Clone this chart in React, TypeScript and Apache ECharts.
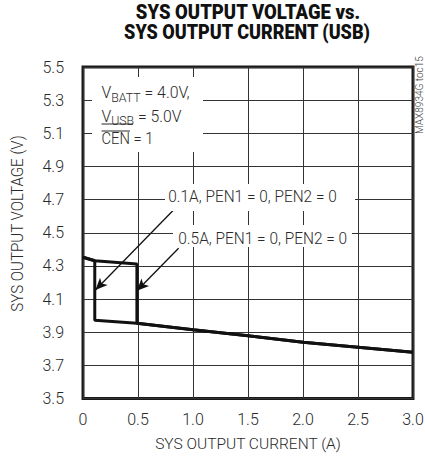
import React, { useEffect, useRef } from "react";
import * as echarts from "echarts";

const FONT = "Roboto, 'Liberation Sans', sans-serif";
const LIGHT = "300";

// Axis ticks
const xTicks = [0, 0.5, 1.0, 1.5, 2.0, 2.5, 3.0];
const yTicks = [3.5, 3.7, 3.9, 4.1, 4.3, 4.5, 4.7, 4.9, 5.1, 5.3, 5.5];

// 0.1A, PEN1 = 0, PEN2 = 0
const current01 = [0, 0.107, 0.107, 0.49, 1.0, 1.5, 2.0, 2.5, 3.0];
const voltage01 = [4.352, 4.331, 3.972, 3.954, 3.915, 3.878, 3.839, 3.809, 3.779];

// 0.5A, PEN1 = 0, PEN2 = 0
const current05 = [0, 0.107, 0.49, 0.49, 1.0, 1.5, 2.0, 2.5, 3.0];
const voltage05 = [4.352, 4.331, 4.311, 3.954, 3.915, 3.878, 3.839, 3.809, 3.779];

// arrow annotations: [fromX, fromY, toX, toY]
const arrow01 = [0.823, 4.637, 0.113, 4.155];
const arrow05 = [0.869, 4.406, 0.49, 4.15];

const TITLE1 = "SYS OUTPUT VOLTAGE vs.";
const TITLE2 = "SYS OUTPUT CURRENT (USB)";
const LABEL01 = "0.1A, PEN1 = 0, PEN2 = 0";
const LABEL05 = "0.5A, PEN1 = 0, PEN2 = 0";

let ctx: CanvasRenderingContext2D | null = null;
function measure(text: string, size: number, weight = LIGHT) {
  if (!ctx) ctx = document.createElement("canvas").getContext("2d");
  if (!ctx) return text.length * size * 0.55;
  ctx.font = `${weight} ${size}px ${FONT}`;
  return ctx.measureText(text).width;
}

export default function App() {
  const ref = useRef<HTMLDivElement>(null);
  useEffect(() => {
    if (!ref.current) return;
    const chart = echarts.init(ref.current, null, { renderer: "svg" });
    const pair = (xs: number[], ys: number[]) => xs.map((x, i) => [x, ys[i]]);
    const lineStyle = { color: "#111", width: 3 };
    const TXT = "#2a2a2a";

    const fit = (text: string, size: number, target: number, weight = LIGHT) =>
      target / measure(text, size, weight);

    const subLine = (main: string, sub: string, rest: string, target: number) => {
      const w = measure(main, 16) + measure(sub, 12.5) + measure(rest, 16);
      return target / w;
    };

    const plainText = (
      text: string,
      x: number,
      y: number,
      size: number,
      target: number,
      extra: any = {}
    ) => ({
      type: "text",
      x,
      y,
      z: 11,
      scaleX: fit(text, size, target, extra.fontWeight || LIGHT),
      rotation: extra.rotation || 0,
      style: {
        text,
        fontFamily: FONT,
        fontSize: size,
        fontWeight: extra.fontWeight || LIGHT,
        fill: extra.fill || TXT,
        align: extra.align || "left",
        verticalAlign: "middle",
      },
    });

    const richSub = { fontFamily: FONT, fontSize: 12.5, fontWeight: LIGHT, fill: TXT, verticalAlign: "bottom", padding: [0, 0, -3, 0] };
    const richMain = { fontFamily: FONT, fontSize: 16, fontWeight: LIGHT, fill: TXT };

    chart.setOption({
      animation: false,
      backgroundColor: "#fff",
      grid: {
        left: 83,
        top: 67,
        right: 12,
        bottom: 62.5,
        show: true,
        borderColor: "#1a1a1a",
        borderWidth: 3,
        outerBoundsMode: "none",
        containLabel: false,
      },
      xAxis: {
        type: "value",
        min: xTicks[0],
        max: xTicks[xTicks.length - 1],
        interval: 0.5,
        name: "SYS OUTPUT CURRENT (A)",
        nameLocation: "middle",
        nameGap: 37,
        nameTextStyle: { fontFamily: FONT, fontSize: 15.5, fontWeight: LIGHT, color: TXT },
        axisLine: { show: false },
        axisTick: { show: false },
        axisLabel: {
          margin: 13,
          fontFamily: FONT,
          fontSize: 16,
          fontWeight: LIGHT,
          color: TXT,
          formatter: (v: number) => (v === 0 ? "0" : v.toFixed(1)),
        },
        splitLine: { show: true, lineStyle: { color: "#333", width: 1 } },
      },
      yAxis: {
        type: "value",
        min: yTicks[0],
        max: yTicks[yTicks.length - 1],
        interval: 0.2,
        axisLine: { show: false },
        axisTick: { show: false },
        axisLabel: {
          margin: 19,
          fontFamily: FONT,
          fontSize: 16,
          fontWeight: LIGHT,
          color: TXT,
          formatter: (v: number) => v.toFixed(1),
        },
        splitLine: { show: true, lineStyle: { color: "#333", width: 1 } },
      },
      series: [
        {
          type: "line",
          data: pair(current01, voltage01),
          symbol: "none",
          lineStyle,
          z: 5,
          markLine: {
            silent: true,
            symbol: ["none", "arrow"],
            symbolSize: [8, 12],
            label: { show: false },
            lineStyle: { color: "#111", width: 1.3, type: "solid" },
            data: [
              [{ coord: [arrow01[0], arrow01[1]] }, { coord: [arrow01[2], arrow01[3]] }],
              [{ coord: [arrow05[0], arrow05[1]] }, { coord: [arrow05[2], arrow05[3]] }],
            ],
          },
        },
        {
          type: "line",
          data: pair(current05, voltage05),
          symbol: "none",
          lineStyle,
          z: 5,
        },
      ],
      graphic: [
        // title
        plainText(TITLE1, 248, 12.5, 19.5, 225, { fontWeight: "900", align: "center", fill: "#111" }),
        plainText(TITLE2, 247, 32.5, 19.5, 247, { fontWeight: "900", align: "center", fill: "#111" }),
        // condition box
        { type: "rect", shape: { x: 92, y: 77, width: 111, height: 75 }, style: { fill: "#fff" }, z: 10 },
        {
          type: "text",
          x: 101.5,
          y: 92.5,
          z: 11,
          scaleX: subLine("V", "BATT", " = 4.0V,", 88),
          style: { text: "{a|V}{s|BATT}{a| = 4.0V,}", verticalAlign: "middle", rich: { a: richMain, s: richSub } },
        },
        {
          type: "text",
          x: 101.5,
          y: 116,
          z: 11,
          scaleX: subLine("V", "USB", " = 5.0V", 80),
          style: { text: "{a|V}{s|USB}{a| = 5.0V}", verticalAlign: "middle", rich: { a: richMain, s: richSub } },
        },
        { type: "line", shape: { x1: 101.5, y1: 124, x2: 133, y2: 124 }, style: { stroke: TXT, lineWidth: 1 }, z: 11 },
        plainText("CEN = 1", 101.5, 139, 16, 52),
        { type: "line", shape: { x1: 101.5, y1: 131, x2: 130, y2: 131 }, style: { stroke: TXT, lineWidth: 1 }, z: 11 },
        // annotation labels
        { type: "rect", shape: { x: 165, y: 184, width: 190, height: 27 }, style: { fill: "#fff" }, z: 10 },
        plainText(LABEL01, 168.3, 196.7, 17, 168.4),
        { type: "rect", shape: { x: 173, y: 225, width: 179, height: 22 }, style: { fill: "#fff" }, z: 10 },
        plainText(LABEL05, 178.3, 238, 17, 169),
        // y axis name
        plainText("SYS OUTPUT VOLTAGE (V)", 18, 223.5, 16, 177, { align: "center", rotation: Math.PI / 2 }),
        // side id
        plainText("MAX8934G toc15", 420, 95, 10, 78, { align: "center", rotation: Math.PI / 2, fill: "#444" }),
      ],
    });
    return () => chart.dispose();
  }, []);
  return <div ref={ref} style={{ position: "fixed", left: 0, top: 0, width: 425, height: 461 }} />;
}
